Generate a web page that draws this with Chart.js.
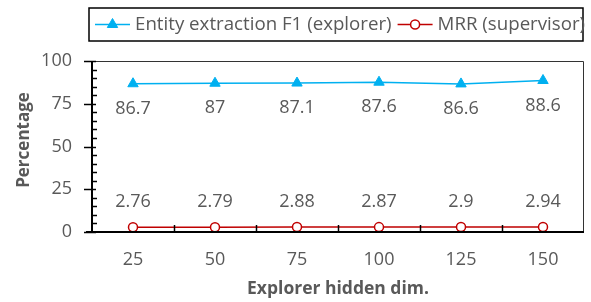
<!DOCTYPE html>
<html>
<head>
<meta charset="utf-8">
<script src="https://cdn.jsdelivr.net/npm/chart.js@4"></script>
<style>
  html, body { margin: 0; padding: 0; background: #fff; }
  #wrap { width: 591px; height: 302px; }
</style>
</head>
<body>
<div id="wrap"><canvas id="myChart" width="591" height="302"></canvas></div>
<script>
const dims = ['25', '50', '75', '100', '125', '150'];
const f1Values = [86.7, 87, 87.1, 87.6, 86.6, 88.6];
const mrrValues = [2.76, 2.79, 2.88, 2.87, 2.9, 2.94];
const yMin = 0, yMax = 100, yStep = 25, yMinorStep = 5;

const textGray = '#595959';
const blue = '#00B0F0';
const red = '#C00000';
const fontFamily = '"Open Sans", Lato, sans-serif';

// labels, axis frame, ticks and the legend box drawn by hand
const decor = {
  id: 'decor',
  afterDraw(chart) {
    const ctx = chart.ctx;
    const area = chart.chartArea;
    const x = chart.scales.x, y = chart.scales.y;
    ctx.save();

    // frame top / right
    ctx.strokeStyle = '#333';
    ctx.lineWidth = 1;
    ctx.beginPath();
    ctx.moveTo(area.left, area.top + 0.5);
    ctx.lineTo(area.right - 0.5, area.top + 0.5);
    ctx.lineTo(area.right - 0.5, area.bottom);
    ctx.stroke();

    // y minor + major ticks
    ctx.strokeStyle = '#000';
    ctx.lineWidth = 1.5;
    for (let v = yMin; v <= yMax; v += yMinorStep) {
      const py = Math.round(y.getPixelForValue(v)) + 0.5;
      ctx.beginPath();
      if (v % yStep === 0) { ctx.moveTo(area.left - 8, py); ctx.lineTo(area.left + 4, py); }
      else { ctx.moveTo(area.left, py); ctx.lineTo(area.left + 5, py); }
      ctx.stroke();
    }
    // x ticks between categories
    for (let i = 1; i < dims.length; i++) {
      const px = Math.round((x.getPixelForValue(i - 1) + x.getPixelForValue(i)) / 2) + 0.5;
      ctx.beginPath();
      ctx.moveTo(px, area.bottom);
      ctx.lineTo(px, area.bottom - 7);
      ctx.stroke();
    }
    // axes
    ctx.lineWidth = 2;
    ctx.beginPath();
    ctx.moveTo(area.left, area.top);
    ctx.lineTo(area.left, area.bottom);
    ctx.moveTo(area.left - 6, area.bottom);
    ctx.lineTo(area.right, area.bottom);
    ctx.stroke();

    // y title
    ctx.save();
    ctx.translate(24, 140);
    ctx.rotate(-Math.PI / 2);
    ctx.font = 'bold 17px ' + fontFamily;
    ctx.fillStyle = textGray;
    ctx.textAlign = 'center';
    ctx.textBaseline = 'middle';
    ctx.fillText('Percentage', 0, 0);
    ctx.restore();

    // value labels
    ctx.font = '18px ' + fontFamily;
    ctx.fillStyle = textGray;
    ctx.textAlign = 'center';
    ctx.textBaseline = 'middle';
    chart.data.datasets.forEach((ds, di) => {
      const meta = chart.getDatasetMeta(di);
      meta.data.forEach((pt, i) => {
        ctx.fillText(String(ds.data[i]), pt.x, pt.y + ds.labelOffset);
      });
    });

    // legend
    const box = { l: 89, r: 583, t: 8, b: 41 };
    const cy = (box.t + box.b) / 2;
    ctx.strokeStyle = '#000';
    ctx.lineWidth = 1.5;
    ctx.strokeRect(box.l, box.t, box.r - box.l, box.b - box.t);
    ctx.font = '18.7px ' + fontFamily;
    ctx.textAlign = 'left';
    let cx = 95;
    chart.data.datasets.forEach((ds) => {
      ctx.strokeStyle = ds.borderColor;
      ctx.lineWidth = 1.5;
      ctx.beginPath();
      ctx.moveTo(cx, cy);
      ctx.lineTo(cx + 35, cy);
      ctx.stroke();
      ctx.fillStyle = ds.pointBackgroundColor;
      ctx.strokeStyle = ds.borderColor;
      ctx.lineWidth = ds.pointBorderWidth;
      Chart.helpers.drawPoint(ctx, {
        pointStyle: ds.pointStyle, radius: ds.pointRadius, borderWidth: ds.pointBorderWidth, rotation: 0
      }, cx + 17.5, cy);
      ctx.fillStyle = textGray;
      ctx.fillText(ds.label, cx + 40, cy);
      cx += 40 + ctx.measureText(ds.label).width + 6;
    });
    ctx.restore();
  }
};

const data = {
  labels: dims,
  datasets: [{
    label: 'Entity extraction F1 (explorer)',
    data: f1Values,
    borderColor: blue,
    backgroundColor: blue,
    pointBackgroundColor: blue,
    pointBorderColor: blue,
    pointStyle: 'triangle',
    pointRadius: 6,
    pointBorderWidth: 1,
    borderWidth: 1.5,
    labelOffset: 25
  }, {
    label: 'MRR (supervisor)',
    data: mrrValues,
    borderColor: red,
    backgroundColor: '#fff',
    pointBackgroundColor: '#fff',
    pointBorderColor: red,
    pointStyle: 'circle',
    pointRadius: 4.5,
    pointBorderWidth: 1.5,
    borderWidth: 1.5,
    labelOffset: -25
  }]
};

const config = {
  type: 'line',
  data: data,
  options: {
    responsive: false,
    animation: false,
    devicePixelRatio: 1,
    layout: { padding: { top: 61, right: 6, left: 0, bottom: 0 } },
    plugins: {
      legend: { display: false },
      tooltip: { enabled: false }
    },
    scales: {
      x: {
        offset: true,
        grid: { display: false, drawTicks: false },
        border: { display: false },
        ticks: { color: textGray, font: { family: fontFamily, size: 18 }, padding: 17 },
        title: {
          display: true, text: 'Explorer hidden dim.', color: textGray,
          font: { family: fontFamily, size: 17.5, weight: 'bold' }, padding: { top: 0, bottom: 2 }
        },
        afterFit: (s) => { s.height = 70; }
      },
      y: {
        min: yMin, max: yMax,
        grid: { display: false, drawTicks: false },
        border: { display: false },
        ticks: { stepSize: yStep, color: textGray, font: { family: fontFamily, size: 18 }, padding: 20 },
        title: { display: false },
        afterFit: (s) => { s.width = 92; }
      }
    }
  },
  plugins: [decor]
};

const myChart = new Chart(document.getElementById('myChart'), config);
</script>
</body>
</html>
